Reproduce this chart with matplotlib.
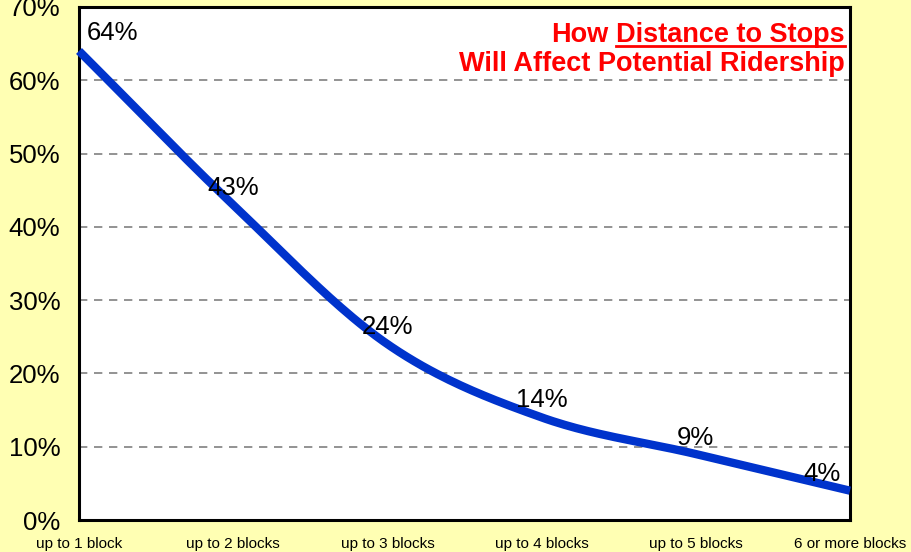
import numpy as np
import matplotlib
matplotlib.use("Agg")
import matplotlib.pyplot as plt
from matplotlib.lines import Line2D

categories = ["up to 1 block", "up to 2 blocks", "up to 3 blocks",
              "up to 4 blocks", "up to 5 blocks", "6 or more blocks"]
values = [64, 43, 24, 14, 9, 4]
ytick_values = [0, 10, 20, 30, 40, 50, 60, 70]
ytick_labels = ["0%", "10%", "20%", "30%", "40%", "50%", "60%", "70%"]
title_line1_a = "How"
title_line1_b = "Distance to Stops"
title_line2 = "Will Affect Potential Ridership"

BG = "#FFFFB3"
LINE = "#0033CC"
RED = "#FF0000"

plt.rcParams['font.family'] = ['Liberation Sans', 'DejaVu Sans']

fig = plt.figure(figsize=(9.12, 5.52), dpi=100, facecolor=BG)
W, H = 912, 552
ax = fig.add_axes([79 / W, 1 - 520 / H, (850 - 79) / W, (520 - 7) / H])
ax.set_facecolor("white")

x = np.arange(len(values))
y = np.array(values, dtype=float)


def smooth(xp, yp, n=40, tension=0.5):
    # Catmull-Rom style cardinal spline through the data points
    pts = np.column_stack([xp, yp])
    ext = np.vstack([2 * pts[0] - pts[1], pts, 2 * pts[-1] - pts[-2]])
    out = []
    for i in range(1, len(ext) - 2):
        p0, p1, p2, p3 = ext[i - 1], ext[i], ext[i + 1], ext[i + 2]
        m1 = tension * (p2 - p0)
        m2 = tension * (p3 - p1)
        t = np.linspace(0, 1, n, endpoint=(i == len(ext) - 3))[:, None]
        h00 = 2 * t**3 - 3 * t**2 + 1
        h10 = t**3 - 2 * t**2 + t
        h01 = -2 * t**3 + 3 * t**2
        h11 = t**3 - t**2
        out.append(h00 * p1 + h10 * m1 + h01 * p2 + h11 * m2)
    out = np.vstack(out)
    return out[:, 0], out[:, 1]


sx, sy = smooth(x, y)
ax.plot(sx, sy, color=LINE, lw=6, solid_capstyle="butt", zorder=3, clip_on=False)

ax.set_xlim(0, len(values) - 1)
ax.set_ylim(0, 70)
ax.set_yticks(ytick_values)
ax.set_yticklabels(ytick_labels, fontsize=18.5)
ax.set_xticks(x)
ax.set_xticklabels(categories, fontsize=11)
ax.tick_params(axis='y', length=0, pad=13.5)
ax.tick_params(axis='x', length=0, pad=12.5)

for gv in ytick_values[1:-1]:
    ax.axhline(gv, color="#808080", lw=1.2, ls=(0, (5, 4)), zorder=1)

for s in ax.spines.values():
    s.set_linewidth(2.2)
    s.set_color("black")

# data labels (offsets in pixels)
offsets = [(33, 18), (0, 17), (0, 17), (0, 17), (0, 16), (-28, 17)]
for xi, yi, (dx, dy) in zip(x, values, offsets):
    ax.annotate(f"{yi}%", (xi, yi), xytext=(dx * 0.72, dy * 0.72),
                textcoords="offset points", ha="center", va="center",
                fontsize=18.5, color="black", zorder=4)

# title (right aligned, red, bold, part underlined)
tx = 845 / W
fig.text(tx, 1 - 71 / H, title_line2, ha="right", va="baseline",
         fontsize=19.5, fontweight="bold", color=RED)
tb = fig.text(tx, 1 - 42 / H, title_line1_b, ha="right", va="baseline",
              fontsize=19.5, fontweight="bold", color=RED)
fig.canvas.draw()
r = fig.canvas.get_renderer()
bb = tb.get_window_extent(r)
fig.text((bb.x0 - 8) / W, 1 - 42 / H, title_line1_a, ha="right", va="baseline",
         fontsize=19.5, fontweight="bold", color=RED)
uy = 1 - 45.5 / H
fig.add_artist(Line2D([bb.x0 / W, bb.x1 / W], [uy, uy], color=RED, lw=2,
                      transform=fig.transFigure))

fig.savefig("out.png", dpi=100, facecolor=BG)
